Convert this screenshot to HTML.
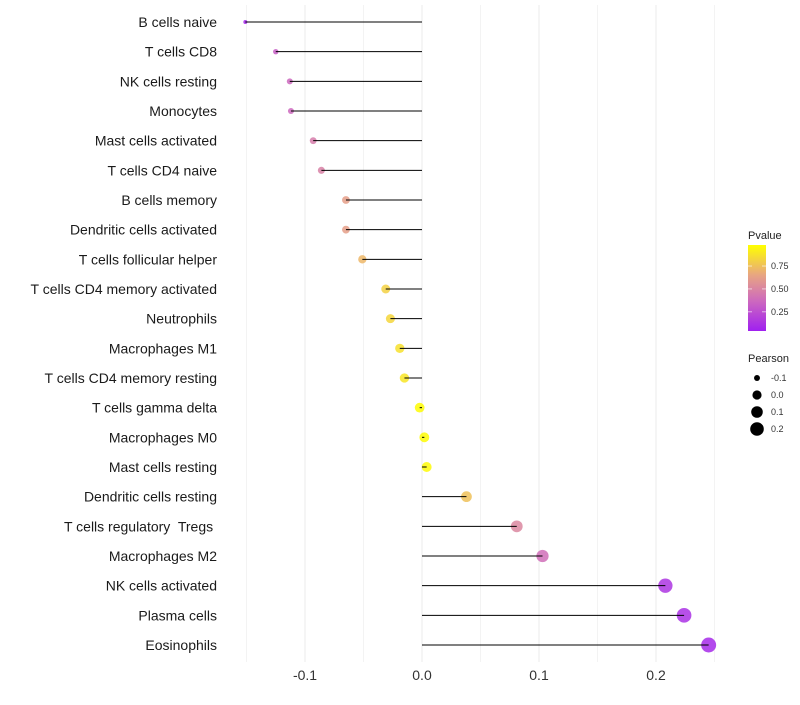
<!DOCTYPE html>
<html><head><meta charset="utf-8"><style>
body{margin:0;background:#fff;font-family:"Liberation Sans",sans-serif}
text{white-space:pre}
</style></head><body>
<svg id="c" width="800" height="700" xmlns="http://www.w3.org/2000/svg"></svg>
<script>
const categories=["B cells naive","T cells CD8","NK cells resting","Monocytes","Mast cells activated","T cells CD4 naive","B cells memory","Dendritic cells activated","T cells follicular helper","T cells CD4 memory activated","Neutrophils","Macrophages M1","T cells CD4 memory resting","T cells gamma delta","Macrophages M0","Mast cells resting","Dendritic cells resting","T cells regulatory  Tregs ","Macrophages M2","NK cells activated","Plasma cells","Eosinophils"];
const pearson=[-0.151,-0.125,-0.113,-0.112,-0.093,-0.086,-0.065,-0.065,-0.051,-0.031,-0.027,-0.019,-0.015,-0.002,0.002,0.004,0.038,0.081,0.103,0.208,0.224,0.245];
const pvalue=[0.03,0.3,0.35,0.35,0.45,0.47,0.62,0.62,0.72,0.82,0.84,0.88,0.9,0.99,0.99,0.98,0.76,0.5,0.38,0.1,0.08,0.05];
const xTicks=[-0.1,0.0,0.1,0.2];
const xTickLabels=["-0.1","0.0","0.1","0.2"];
const pTicks=[0.25,0.5,0.75];
const sizeLegend=[-0.1,0,0.1,0.2];

const NS="http://www.w3.org/2000/svg";
const svg=document.getElementById('c');
function el(t,a){const e=document.createElementNS(NS,t);for(const k in a)e.setAttribute(k,a[k]);return e;}
const x=v=>422+v*1170;
const y=i=>22+i*(623/21);
const rad=v=>{const t=(v+0.151)/(0.245+0.151);return Math.sqrt(Math.max(0.5,4+t*52.25));};
function lerp(a,b,t){return a+(b-a)*t;}
const stops=[[0,[160,32,240]],[0.35,[205,105,190]],[0.65,[232,165,130]],[1,[255,255,0]]];
function col(p){for(let i=1;i<stops.length;i++){if(p<=stops[i][0]){const a=stops[i-1],b=stops[i];const t=(p-a[0])/(b[0]-a[0]);return `rgb(${[0,1,2].map(k=>Math.round(lerp(a[1][k],b[1][k],t))).join(',')})`;}}return 'rgb(255,255,0)';}

[-0.15,-0.05,0.05,0.15,0.25].forEach(v=>{const g=el('line',{x1:x(v),x2:x(v),y1:5,y2:662,stroke:'#f3f3f3','stroke-width':1});

svg.appendChild(g);});
xTicks.forEach((v,i)=>{const g=el('line',{x1:x(v),x2:x(v),y1:5,y2:662,stroke:'#ebebeb','stroke-width':1});

svg.appendChild(g);
const t=el('text',{x:x(v),y:680,'text-anchor':'middle','font-size':14,fill:'#333'});t.textContent=xTickLabels[i];

svg.appendChild(t);});

categories.forEach((c,i)=>{
const t=el('text',{x:217,y:y(i)+5,'text-anchor':'end','font-size':14,fill:'#1a1a1a'});t.textContent=c;

svg.appendChild(t);
const pt=el('circle',{cx:x(pearson[i]),cy:y(i),r:rad(pearson[i]),fill:col(pvalue[i]),'fill-opacity':0.85});

svg.appendChild(pt);
const l=el('line',{x1:x(0),x2:x(pearson[i]),y1:y(i),y2:y(i),stroke:'#000','stroke-width':1});

svg.appendChild(l);
});

const defs=el('defs',{});const lg=el('linearGradient',{id:'g',x1:0,y1:1,x2:0,y2:0});
stops.forEach(s=>lg.appendChild(el('stop',{offset:s[0],'stop-color':`rgb(${s[1].join(',')})`})));
defs.appendChild(lg);svg.appendChild(defs);
const tt=el('text',{x:748,y:239,'font-size':11,fill:'#222'});tt.textContent='Pvalue';

svg.appendChild(tt);
const bar=el('rect',{x:748,y:245,width:18,height:86,fill:'url(#g)'});

svg.appendChild(bar);
const py=p=>331-(p-0.04)/(0.98-0.04)*86;
pTicks.forEach(p=>{const t=el('text',{x:771,y:py(p)+3,'font-size':9,fill:'#333'});t.textContent=p.toFixed(2);

svg.appendChild(t);
svg.appendChild(el('line',{x1:748,x2:752,y1:py(p),y2:py(p),stroke:'#fff','stroke-opacity':0.6}));
svg.appendChild(el('line',{x1:762,x2:766,y1:py(p),y2:py(p),stroke:'#fff','stroke-opacity':0.6}));});

const st=el('text',{x:748,y:362,'font-size':11,fill:'#222'});st.textContent='Pearson';

svg.appendChild(st);
sizeLegend.forEach((v,i)=>{const cy=378+i*17;
const c=el('circle',{cx:757,cy:cy,r:rad(v)-0.3,fill:'#000'});

svg.appendChild(c);
const t=el('text',{x:771,y:cy+3,'font-size':9,fill:'#333'});t.textContent=v.toFixed(1);

svg.appendChild(t);});
</script>
</body></html>
